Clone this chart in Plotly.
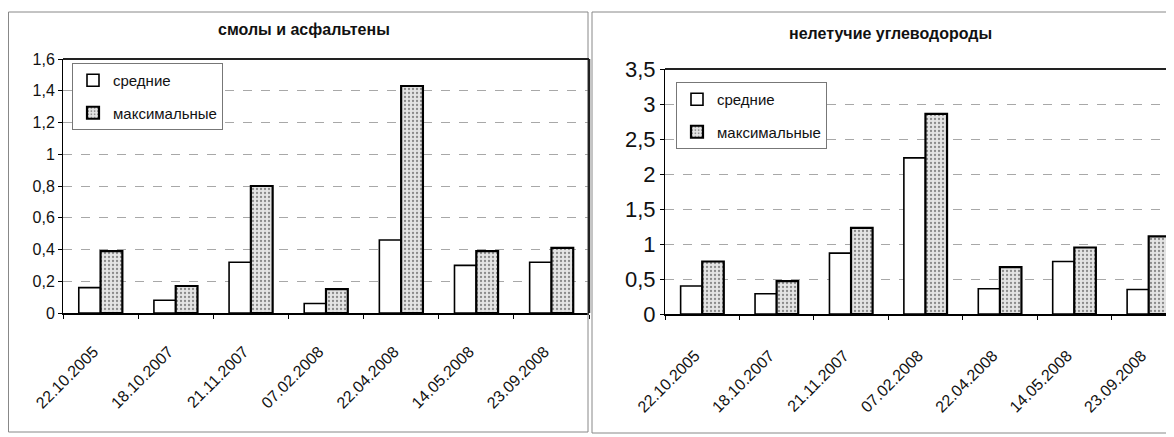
import plotly.graph_objects as go

dates = ["22.10.2005", "18.10.2007", "21.11.2007", "07.02.2008",
         "22.04.2008", "14.05.2008", "23.09.2008"]

resin_mean = [0.16, 0.08, 0.32, 0.06, 0.46, 0.30, 0.32]
resin_max = [0.39, 0.17, 0.80, 0.15, 1.43, 0.39, 0.41]

hc_mean = [0.40, 0.29, 0.87, 2.23, 0.36, 0.75, 0.35]
hc_max = [0.75, 0.47, 1.23, 2.86, 0.67, 0.95, 1.11]

left_ticks = [0, 0.2, 0.4, 0.6, 0.8, 1.0, 1.2, 1.4, 1.6]
left_ticktext = ["0", "0,2", "0,4", "0,6", "0,8", "1", "1,2", "1,4", "1,6"]
right_ticks = [0, 0.5, 1.0, 1.5, 2.0, 2.5, 3.0, 3.5]
right_ticktext = ["0", "0,5", "1", "1,5", "2", "2,5", "3", "3,5"]

name_mean = "средние"
name_max = "максимальные"
title_left = "смолы и асфальтены"
title_right = "нелетучие углеводороды"

FONT = "Liberation Sans"
OFF = 8  # default page body margin
W, H = 1174 - OFF, 437 - OFF

def px(v):
    return (v - OFF) / W

def py(v):
    return 1 - (v - OFF) / H

mean_marker = dict(color="white", line=dict(color="black", width=1.6))
max_marker = dict(color="#dcdcdc", line=dict(color="black", width=2.2),
                  pattern=dict(shape=".", fgcolor="#8a8a8a", bgcolor="#e4e4e4",
                               size=4, solidity=0.25, fillmode="replace"))

fig = go.Figure()
fig.add_trace(go.Bar(x=dates, y=resin_mean, name=name_mean, marker=mean_marker,
                     xaxis="x", yaxis="y", legend="legend", legendgroup="a"))
fig.add_trace(go.Bar(x=dates, y=resin_max, name=name_max, marker=max_marker,
                     xaxis="x", yaxis="y", legend="legend", legendgroup="b"))
fig.add_trace(go.Bar(x=dates, y=hc_mean, name=name_mean, marker=mean_marker,
                     xaxis="x2", yaxis="y2", legend="legend2", legendgroup="c"))
fig.add_trace(go.Bar(x=dates, y=hc_max, name=name_max, marker=max_marker,
                     xaxis="x2", yaxis="y2", legend="legend2", legendgroup="d"))

xcommon = dict(type="category", ticks="outside", tickson="boundaries", ticklen=4,
               tickcolor="black", showline=True, linecolor="black", linewidth=2,
               tickangle=-45, tickfont=dict(family=FONT, size=16, color="#111"),
               showgrid=False, zeroline=False, fixedrange=True, automargin=False,
               ticklabelshift=-7)
ycommon = dict(ticks="outside", ticklen=4, tickcolor="black", showline=True,
               linecolor="black", linewidth=1, showgrid=True, gridcolor="#a8a8a8",
               griddash="dash", gridwidth=1, zeroline=False, fixedrange=True,
               automargin=False)

fig.update_layout(
    width=W, height=H,
    margin=dict(l=0, r=0, t=0, b=0, autoexpand=False),
    paper_bgcolor="white", plot_bgcolor="white",
    barmode="group", bargap=0.42, bargroupgap=0,
    font=dict(family=FONT, color="#111"),
    xaxis=dict(xcommon, domain=[px(63), px(589)], anchor="y",
               range=[-0.5, 6.5], ticklabelstandoff=21),
    yaxis=dict(ycommon, domain=[py(313), py(59)], anchor="x", range=[0, 1.6],
               tickvals=left_ticks, ticktext=left_ticktext,
               tickfont=dict(family=FONT, size=16, color="#111")),
    xaxis2=dict(xcommon, domain=[px(665), 1.0], anchor="y2",
                range=[-0.5, 6.34], ticklabelstandoff=24),
    yaxis2=dict(ycommon, domain=[py(314), py(69)], anchor="x2", range=[0, 3.5],
                tickvals=right_ticks, ticktext=right_ticktext,
                tickfont=dict(family=FONT, size=22, color="#111")),
    legend=dict(x=px(72), y=py(63), xanchor="left", yanchor="top",
                bgcolor="white", bordercolor="#777", borderwidth=1,
                font=dict(family=FONT, size=15, color="#111"),
                tracegroupgap=10, itemwidth=30),
    legend2=dict(x=px(676), y=py(82), xanchor="left", yanchor="top",
                 bgcolor="white", bordercolor="#777", borderwidth=1,
                 font=dict(family=FONT, size=15, color="#111"),
                 tracegroupgap=10, itemwidth=30),
    annotations=[
        dict(text="<b>" + title_left + "</b>", x=px(304), y=py(29), xref="paper",
             yref="paper", xanchor="center", yanchor="middle", showarrow=False,
             font=dict(family=FONT, size=16, color="#111")),
        dict(text="<b>" + title_right + "</b>", x=px(890), y=py(33), xref="paper",
             yref="paper", xanchor="center", yanchor="middle", showarrow=False,
             font=dict(family=FONT, size=16, color="#111")),
    ],
    shapes=[
        dict(type="rect", xref="paper", yref="paper", x0=px(8.5), x1=px(588),
             y0=py(432), y1=py(12), line=dict(color="#888", width=1)),
        dict(type="rect", xref="paper", yref="paper", x0=px(592), x1=px(1173),
             y0=py(433), y1=py(12), line=dict(color="#888", width=1)),
        dict(type="line", xref="x domain", yref="y domain", x0=0, x1=1, y0=1, y1=1,
             line=dict(color="#222", width=2)),
        dict(type="line", xref="x domain", yref="y domain", x0=1, x1=1, y0=0, y1=1,
             line=dict(color="#222", width=2.5)),
        dict(type="line", xref="x2 domain", yref="y2 domain", x0=0, x1=1, y0=1, y1=1,
             line=dict(color="#222", width=2)),
    ],
)

fig.write_html("out.html")
